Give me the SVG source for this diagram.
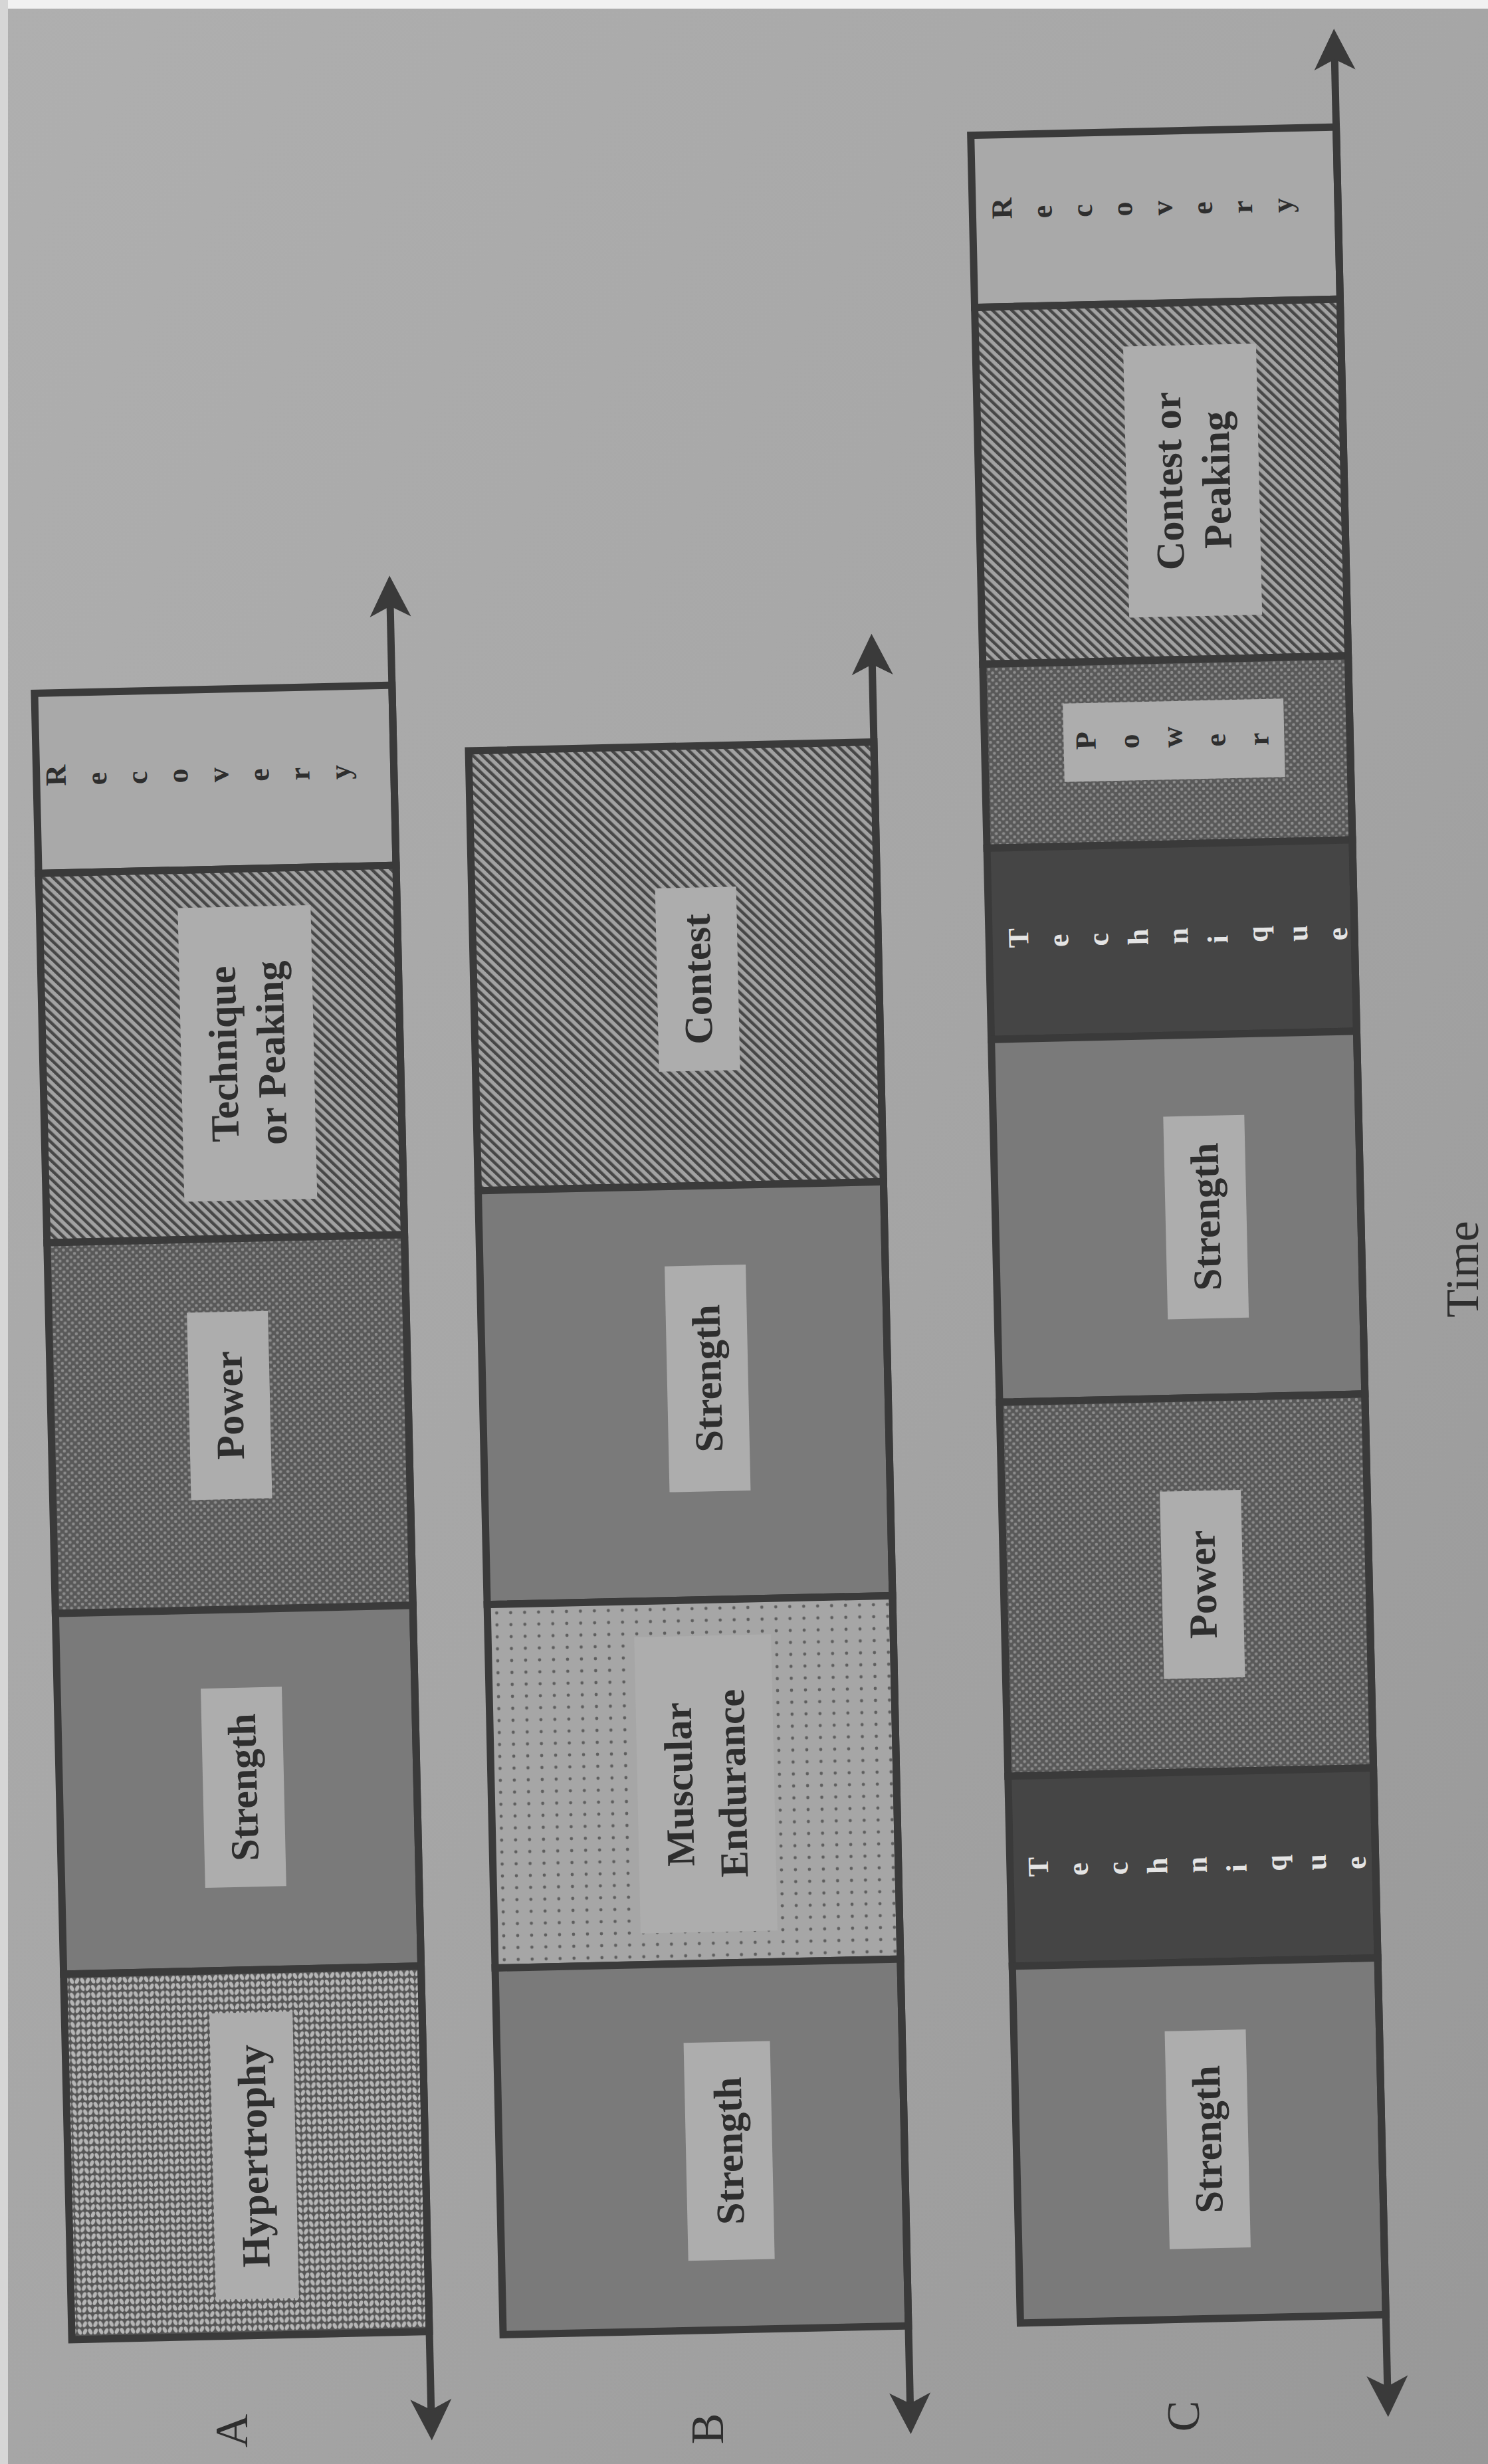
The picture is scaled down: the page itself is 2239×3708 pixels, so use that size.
<svg xmlns="http://www.w3.org/2000/svg" width="2239" height="3708" viewBox="0 0 2239 3708">
<defs>
<linearGradient id="page" x1="0" y1="0" x2="1" y2="1">
<stop offset="0" stop-color="#afafaf"/>
<stop offset="0.5" stop-color="#a6a6a6"/>
<stop offset="1" stop-color="#989898"/>
</linearGradient>
<pattern id="hatch" patternUnits="userSpaceOnUse" width="10" height="10" patternTransform="rotate(-45)">
<rect width="10" height="10" fill="#a2a2a2"/>
<rect width="4.5" height="10" fill="#474747"/>
</pattern>
<pattern id="power" patternUnits="userSpaceOnUse" width="11" height="11">
<rect width="11" height="11" fill="#595959"/>
<circle cx="0" cy="0" r="2.3" fill="#8c8c8c"/>
<circle cx="11" cy="0" r="2.3" fill="#8c8c8c"/>
<circle cx="0" cy="11" r="2.3" fill="#8c8c8c"/>
<circle cx="11" cy="11" r="2.3" fill="#8c8c8c"/>
<circle cx="5.5" cy="5.5" r="2.3" fill="#8c8c8c"/>
</pattern>
<pattern id="knit" patternUnits="userSpaceOnUse" width="16" height="11">
<rect width="16" height="11" fill="#555555"/>
<ellipse cx="4" cy="5.5" rx="2.8" ry="4.7" transform="rotate(25 4 5.5)" fill="#b6b6b6"/>
<ellipse cx="12" cy="5.5" rx="2.8" ry="4.7" transform="rotate(-25 12 5.5)" fill="#b6b6b6"/>
</pattern>
<pattern id="dots" patternUnits="userSpaceOnUse" width="21" height="18">
<rect width="21" height="18" fill="#a6a6a6"/>
<circle cx="10" cy="9" r="2.4" fill="#5e5e5e"/>
</pattern>
<marker id="arrow" markerUnits="userSpaceOnUse" markerWidth="70" markerHeight="70" viewBox="-25 -35 70 70" refX="0" refY="0" orient="auto-start-reverse">
<path d="M40,0 L-22,-31 L-6,0 L-22,31 Z" fill="#3a3a3a"/>
</marker>
</defs>
<style>
.frame { stroke:#3a3a3a; stroke-width:11; }
.plain { fill:#a9a9a9; }
.str { fill:#7a7a7a; }
.tech { fill:#454545; }
.box { fill:#adadad; }
.lbl { font-family:"Liberation Serif", "Times New Roman", serif; font-weight:bold; font-size:60px; fill:#2e2e2e; text-anchor:middle; dominant-baseline:central; }
.sp { font-family:"Liberation Serif", "Times New Roman", serif; font-weight:bold; font-size:44px; fill:#2e2e2e; }
.white { fill:#e4e4e4; }
.tag { font-family:"Liberation Serif", "Times New Roman", serif; font-size:70px; fill:#2e2e2e; text-anchor:middle; dominant-baseline:central; }
.axis { stroke:#3a3a3a; stroke-width:11; fill:none; marker-start:url(#arrow); marker-end:url(#arrow); }
</style>

<rect width="2239" height="3708" fill="url(#page)"/>
<rect x="0" y="0" width="2239" height="13" fill="#f1f1f1"/>
<rect x="0" y="0" width="12" height="3708" fill="#d6d6d6"/>

<!-- Chart A -->
<g id="chart-a" transform="rotate(-1.3 349 2276)">
  <g id="a-recovery">
    <rect class="plain frame" x="80" y="1037" width="538" height="271"/>
    <text class="sp" x="124 185.1 246.2 307.3 368.4 429.5 490.6 551.7" y="1177" rotate="-90">Recovery</text>
  </g>
  <g id="a-technique-peaking">
    <rect class="frame" fill="url(#hatch)" x="80" y="1308" width="538" height="556"/>
    <rect class="box" x="288" y="1365" width="200" height="442"/>
    <text class="lbl" transform="translate(388 1586) rotate(-90)"><tspan x="0" y="-36">Technique</tspan><tspan x="0" y="36">or Peaking</tspan></text>
  </g>
  <g id="a-power">
    <rect class="frame" fill="url(#power)" x="80" y="1864" width="538" height="558"/>
    <rect class="box" x="288" y="1974" width="122" height="282"/>
    <text class="lbl" transform="translate(349 2115) rotate(-90)">Power</text>
  </g>
  <g id="a-strength">
    <rect class="str frame" x="80" y="2422" width="538" height="543"/>
    <rect class="box" x="296" y="2540" width="122" height="300"/>
    <text class="lbl" transform="translate(357 2690) rotate(-90)">Strength</text>
  </g>
  <g id="a-hypertrophy">
    <rect class="frame" fill="url(#knit)" x="80" y="2965" width="538" height="550"/>
    <rect class="box" x="298" y="3029" width="125" height="431"/>
    <text class="lbl" transform="translate(360 3245) rotate(-90)">Hypertrophy</text>
  </g>
</g>

<!-- Chart B -->
<g id="chart-b" transform="rotate(-1.25 1036 2315)">
  <g id="b-contest">
    <rect class="frame" fill="url(#hatch)" x="731" y="1123" width="610" height="662"/>
    <rect class="box" x="1007" y="1336" width="122" height="276"/>
    <text class="lbl" transform="translate(1068 1474) rotate(-90)">Contest</text>
  </g>
  <g id="b-strength-2">
    <rect class="str frame" x="731" y="1785" width="610" height="623"/>
    <rect class="box" x="1009" y="1905" width="122" height="340"/>
    <text class="lbl" transform="translate(1070 2075) rotate(-90)">Strength</text>
  </g>
  <g id="b-muscular-endurance">
    <rect class="frame" fill="url(#dots)" x="731" y="2408" width="610" height="547"/>
    <rect class="box" x="951" y="2462" width="206" height="446"/>
    <text class="lbl" transform="translate(1054 2685) rotate(-90)"><tspan x="0" y="-40">Muscular</tspan><tspan x="0" y="40">Endurance</tspan></text>
  </g>
  <g id="b-strength-1">
    <rect class="str frame" x="731" y="2955" width="610" height="552"/>
    <rect class="box" x="1012" y="3074" width="130" height="328"/>
    <text class="lbl" transform="translate(1077 3238) rotate(-90)">Strength</text>
  </g>
</g>

<!-- Chart C -->
<g id="chart-c" transform="rotate(-1.3 1773 1844)">
  <g id="c-recovery">
    <rect class="plain frame" x="1498" y="197" width="550" height="259"/>
    <text class="sp" x="1557 1617.3 1677.6 1737.9 1798.2 1858.5 1918.8 1979.1" y="324" rotate="-90">Recovery</text>
  </g>
  <g id="c-contest-peaking">
    <rect class="frame" fill="url(#hatch)" x="1498" y="456" width="550" height="537"/>
    <rect class="box" x="1720" y="520" width="200" height="408"/>
    <text class="lbl" transform="translate(1820 724) rotate(-90)"><tspan x="0" y="-36">Contest or</tspan><tspan x="0" y="36">Peaking</tspan></text>
  </g>
  <g id="c-power-2">
    <rect class="frame" fill="url(#power)" x="1498" y="993" width="550" height="277"/>
    <rect class="box" x="1617" y="1055" width="332" height="118"/>
    <text class="sp" x="1665 1730 1795 1860 1925" y="1125" rotate="-90">Power</text>
  </g>
  <g id="c-technique-2">
    <rect class="tech frame" x="1498" y="1270" width="550" height="288"/>
    <text class="sp white" x="1557 1617 1677 1737 1797 1857 1917 1977 2037" y="1421" rotate="-90">Technique</text>
  </g>
  <g id="c-strength-2">
    <rect class="str frame" x="1498" y="1558" width="550" height="546"/>
    <rect class="box" x="1754" y="1680" width="122" height="305"/>
    <text class="lbl" transform="translate(1815 1832) rotate(-90)">Strength</text>
  </g>
  <g id="c-power-1">
    <rect class="frame" fill="url(#power)" x="1498" y="2104" width="550" height="563"/>
    <rect class="box" x="1736" y="2244" width="122" height="282"/>
    <text class="lbl" transform="translate(1797 2385) rotate(-90)">Power</text>
  </g>
  <g id="c-technique-1">
    <rect class="tech frame" x="1498" y="2667" width="550" height="286"/>
    <text class="sp white" x="1555 1614.75 1674.5 1734.25 1794 1853.75 1913.5 1973.25 2033" y="2819" rotate="-90">Technique</text>
  </g>
  <g id="c-strength-1">
    <rect class="str frame" x="1498" y="2953" width="550" height="537"/>
    <rect class="box" x="1725" y="3056" width="122" height="328"/>
    <text class="lbl" transform="translate(1786 3220) rotate(-90)">Strength</text>
  </g>
</g>

<!-- Time axes -->
<g id="connectors">
  <line id="axis-a" class="axis" x1="618" y1="3639" x2="618" y2="912" transform="rotate(-1.3 349 2276)"/>
  <line id="axis-b" class="axis" x1="1341" y1="3630" x2="1341" y2="1000" transform="rotate(-1.25 1036 2315)"/>
  <line id="axis-c" class="axis" x1="2048" y1="3604" x2="2048" y2="89" transform="rotate(-1.3 1773 1844)"/>
</g>

<!-- Panel labels -->
<g id="labels">
  <text class="tag" transform="translate(348 3658) rotate(-90)">A</text>
  <text class="tag" transform="translate(1064 3655) rotate(-90)">B</text>
  <text class="tag" transform="translate(1780 3636) rotate(-90)">C</text>
  <text class="tag" transform="translate(2200 1910) rotate(-90)">Time</text>
</g>
</svg>
